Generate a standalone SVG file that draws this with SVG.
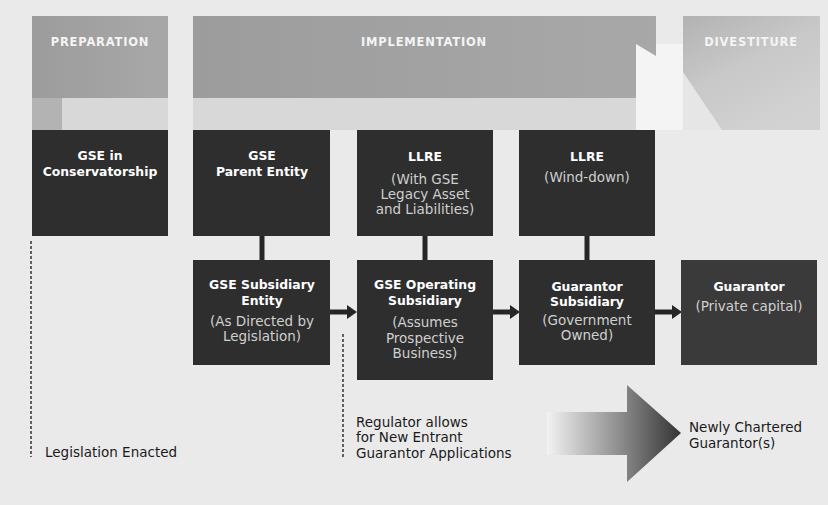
<svg xmlns="http://www.w3.org/2000/svg" width="828" height="505" viewBox="0 0 828 505">
<defs>
<style>
.box{fill:#2e2e2e}
.box2{fill:#3a3a3a}
.t{font-family:"DejaVu Sans","Liberation Sans",sans-serif;text-anchor:middle}
.b{font-size:12.4px;font-weight:bold;fill:#ffffff}
.r{font-size:13.5px;fill:#cfcfcf}
.hd{font-family:"DejaVu Sans","Liberation Sans",sans-serif;font-size:11.5px;font-weight:bold;fill:#f4f4f4;letter-spacing:0.8px;text-anchor:middle}
.note{font-family:"DejaVu Sans","Liberation Sans",sans-serif;font-size:13.5px;fill:#1a1a1a}
.vc{stroke:#262626;stroke-width:5}
.hc{stroke:#262626;stroke-width:5}
.dash{stroke:#333;stroke-width:1.5;stroke-dasharray:3 2;fill:none}
</style>
<marker id="ah" markerWidth="10" markerHeight="14" refX="0" refY="7" orient="auto" markerUnits="userSpaceOnUse">
<path d="M0,0 L10,7 L0,14 Z" fill="#262626"/>
</marker>
<linearGradient id="band" x1="0" y1="0" x2="1" y2="0">
<stop offset="0" stop-color="#9c9c9c"/>
<stop offset="1" stop-color="#a8a8a8"/>
</linearGradient>
<linearGradient id="div" x1="0" y1="0" x2="0.6" y2="1">
<stop offset="0" stop-color="#b2b2b2"/>
<stop offset="0.5" stop-color="#c8c8c8"/>
<stop offset="1" stop-color="#d2d2d2"/>
</linearGradient>
<linearGradient id="big" gradientUnits="userSpaceOnUse" x1="547" y1="0" x2="681" y2="0">
<stop offset="0" stop-color="#f2f2f2"/>
<stop offset="0.55" stop-color="#8c8c8c"/>
<stop offset="1" stop-color="#333333"/>
</linearGradient>
</defs>
<rect x="0" y="0" width="828" height="505" fill="#eaeaea"/>

<g id="phase-preparation">
<rect x="32" y="98" width="136" height="32" fill="#d8d8d8"/>
<rect x="32" y="98" width="30" height="32" fill="#b3b3b3"/>
<rect x="32" y="16" width="136" height="82" fill="url(#band)"/>
<text class="hd" x="100" y="46">PREPARATION</text>
</g>
<g id="phase-implementation">
<rect x="193" y="98" width="443" height="32" fill="#d8d8d8"/>
<rect x="636" y="44" width="47" height="86" fill="#f4f4f4"/>
<polygon points="193,16 656,16 656,56 636,44 636,98 193,98" fill="url(#band)"/>
<text class="hd" x="424" y="46">IMPLEMENTATION</text>
</g>
<g id="phase-divestiture">
<rect x="683" y="16" width="137" height="114" fill="url(#div)"/>
<polygon points="683,72 683,130 722,130" fill="#e6e6e6"/>
<text class="hd" x="751" y="46">DIVESTITURE</text>
</g>

<g id="connectors">
<line class="vc" x1="262" y1="236" x2="262" y2="260"/>
<line class="vc" x1="425" y1="236" x2="425" y2="260"/>
<line class="vc" x1="587" y1="236" x2="587" y2="260"/>
<line class="hc" x1="330" y1="312" x2="347" y2="312" marker-end="url(#ah)"/>
<line class="hc" x1="493" y1="312" x2="510" y2="312" marker-end="url(#ah)"/>
<line class="hc" x1="655" y1="312" x2="672" y2="312" marker-end="url(#ah)"/>
<line class="dash" x1="31" y1="241" x2="31" y2="457"/>
<line class="dash" x1="343" y1="334" x2="343" y2="458"/>
</g>

<g id="n-conservatorship">
<rect class="box" x="32" y="130" width="136" height="106"/>
<text class="t b" x="100" y="160">GSE in</text>
<text class="t b" x="100" y="176">Conservatorship</text>
</g>
<g id="n-parent">
<rect class="box" x="193" y="130" width="137" height="106"/>
<text class="t b" x="262" y="160">GSE</text>
<text class="t b" x="262" y="176">Parent Entity</text>
</g>
<g id="n-llre1">
<rect class="box" x="357" y="130" width="136" height="106"/>
<text class="t b" x="425" y="161">LLRE</text>
<text class="t r" x="425" y="184">(With GSE</text>
<text class="t r" x="425" y="199">Legacy Asset</text>
<text class="t r" x="425" y="214">and Liabilities)</text>
</g>
<g id="n-llre2">
<rect class="box" x="519" y="130" width="136" height="106"/>
<text class="t b" x="587" y="161">LLRE</text>
<text class="t r" x="587" y="182">(Wind-down)</text>
</g>
<g id="n-subsidiary">
<rect class="box" x="193" y="260" width="137" height="105"/>
<text class="t b" x="262" y="289">GSE Subsidiary</text>
<text class="t b" x="262" y="305">Entity</text>
<text class="t r" x="262" y="326">(As Directed by</text>
<text class="t r" x="262" y="341">Legislation)</text>
</g>
<g id="n-operating">
<rect class="box" x="357" y="260" width="136" height="120"/>
<text class="t b" x="425" y="289">GSE Operating</text>
<text class="t b" x="425" y="305">Subsidiary</text>
<text class="t r" x="425" y="327">(Assumes</text>
<text class="t r" x="425" y="343">Prospective</text>
<text class="t r" x="425" y="358">Business)</text>
</g>
<g id="n-guarantor-sub">
<rect class="box" x="519" y="260" width="136" height="105"/>
<text class="t b" x="587" y="291">Guarantor</text>
<text class="t b" x="587" y="306">Subsidiary</text>
<text class="t r" x="587" y="325">(Government</text>
<text class="t r" x="587" y="340">Owned)</text>
</g>
<g id="n-guarantor">
<rect class="box2" x="681" y="260" width="136" height="105"/>
<text class="t b" x="749" y="291">Guarantor</text>
<text class="t r" x="749" y="311">(Private capital)</text>
</g>

<g id="n-big-arrow">
<polygon points="547,412 627,412 627,385 681,433 627,482 627,455 547,455" fill="url(#big)"/>
</g>

<g id="labels">
<text class="note" x="45" y="457">Legislation Enacted</text>
<text class="note" x="356" y="427">Regulator allows</text>
<text class="note" x="356" y="442">for New Entrant</text>
<text class="note" x="356" y="458">Guarantor Applications</text>
<text class="note" x="689" y="432">Newly Chartered</text>
<text class="note" x="689" y="448">Guarantor(s)</text>
</g>
</svg>
